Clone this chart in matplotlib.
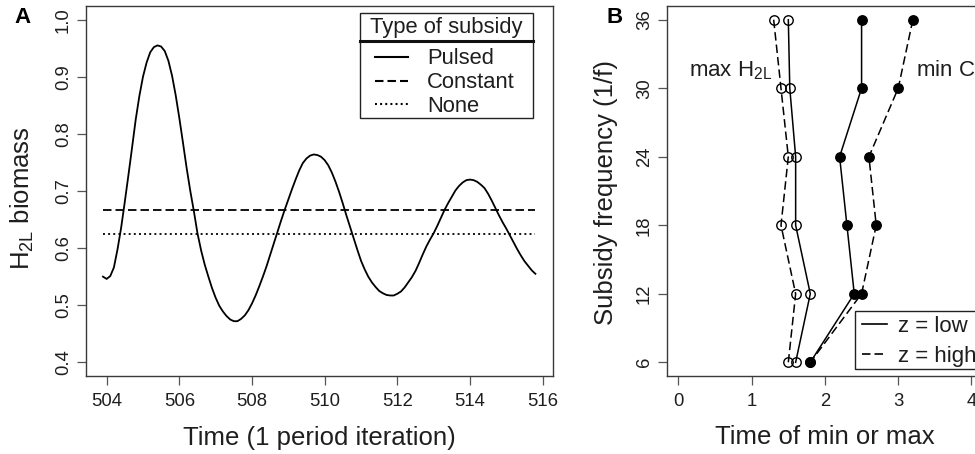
import matplotlib
matplotlib.use("Agg")
import matplotlib.pyplot as plt
from matplotlib.lines import Line2D
from matplotlib.patches import Rectangle

plt.rcParams['font.family'] = ['Liberation Sans', 'DejaVu Sans']
plt.rcParams['mathtext.default'] = 'regular'
plt.rcParams['lines.scale_dashes'] = False

# ---------------- data ----------------
# Panel A: H2L biomass over one period iteration
time = [503.9, 504.0, 504.1, 504.2, 504.3, 504.4, 504.5, 504.6, 504.7, 504.8,
        504.9, 505.0, 505.1, 505.2, 505.3, 505.4, 505.5, 505.6, 505.7, 505.8,
        505.9, 506.0, 506.1, 506.2, 506.3, 506.4, 506.5, 506.6, 506.7, 506.8,
        506.9, 507.0, 507.1, 507.2, 507.3, 507.4, 507.5, 507.6, 507.7, 507.8,
        507.9, 508.0, 508.1, 508.2, 508.3, 508.4, 508.5, 508.6, 508.7, 508.8,
        508.9, 509.0, 509.1, 509.2, 509.3, 509.4, 509.5, 509.6, 509.7, 509.8,
        509.9, 510.0, 510.1, 510.2, 510.3, 510.4, 510.5, 510.6, 510.7, 510.8,
        510.9, 511.0, 511.1, 511.2, 511.3, 511.4, 511.5, 511.6, 511.7, 511.8,
        511.9, 512.0, 512.1, 512.2, 512.3, 512.4, 512.5, 512.6, 512.7, 512.8,
        512.9, 513.0, 513.1, 513.2, 513.3, 513.4, 513.5, 513.6, 513.7, 513.8,
        513.9, 514.0, 514.1, 514.2, 514.3, 514.4, 514.5, 514.6, 514.7, 514.8,
        514.9, 515.0, 515.1, 515.2, 515.3, 515.4, 515.5, 515.6, 515.7, 515.8]
pulsed = [0.550, 0.546, 0.551, 0.566, 0.598, 0.636, 0.681, 0.728, 0.776, 0.825,
          0.866, 0.900, 0.925, 0.943, 0.952, 0.955, 0.953, 0.945, 0.928, 0.902,
          0.868, 0.828, 0.785, 0.741, 0.701, 0.665, 0.626, 0.596, 0.571, 0.550,
          0.530, 0.513, 0.499, 0.489, 0.481, 0.475, 0.472, 0.472, 0.476, 0.482,
          0.491, 0.503, 0.517, 0.533, 0.550, 0.568, 0.588, 0.608, 0.628, 0.648,
          0.667, 0.685, 0.703, 0.720, 0.736, 0.749, 0.757, 0.762, 0.764, 0.763,
          0.760, 0.754, 0.745, 0.732, 0.716, 0.698, 0.678, 0.657, 0.637, 0.617,
          0.597, 0.578, 0.563, 0.550, 0.540, 0.532, 0.525, 0.521, 0.518, 0.517,
          0.517, 0.520, 0.524, 0.531, 0.540, 0.549, 0.560, 0.574, 0.589, 0.603,
          0.615, 0.626, 0.639, 0.653, 0.667, 0.679, 0.690, 0.701, 0.709, 0.715,
          0.719, 0.720, 0.719, 0.716, 0.711, 0.705, 0.695, 0.683, 0.670, 0.657,
          0.645, 0.634, 0.622, 0.610, 0.598, 0.587, 0.577, 0.569, 0.561, 0.555]
constant_level = 0.667
none_level = 0.625
subsidy_types = ['Pulsed', 'Constant', 'None']
a_xticks = [504, 506, 508, 510, 512, 514, 516]
a_yticks = [0.4, 0.5, 0.6, 0.7, 0.8, 0.9, 1.0]

# Panel B: time of min / max vs subsidy frequency
freq = [36, 30, 24, 18, 12, 6]
maxH_low = [1.5, 1.52, 1.6, 1.6, 1.8, 1.6]
maxH_high = [1.3, 1.4, 1.5, 1.4, 1.6, 1.5]
minC_low = [2.5, 2.5, 2.2, 2.3, 2.4, 1.8]
minC_high = [3.2, 3.0, 2.6, 2.7, 2.5, 1.8]
z_labels = ['z = low', 'z = high']
b_xticks = [0, 1, 2, 3, 4]
b_yticks = [6, 12, 18, 24, 30, 36]

# ---------------- figure ----------------
W, H = 975, 454
fig = plt.figure(figsize=(W / 100, H / 100), dpi=100)


def fx(px):
    return px / W


def fy(py):
    return 1 - py / H


TXT = '#1e1e1e'
SPINE = '#3a3a3a'
TICK = '#555555'
DASH = (0, (6.1, 2.9))
DOT = (0, (1.4, 2.3))

axA = fig.add_axes([fx(85.7), fy(376), (552.7 - 85.7) / W, 370 / H])
axB = fig.add_axes([fx(666.7), fy(376), (983.2 - 666.7) / W, 370 / H])

# Panel A
axA.plot(time, pulsed, color='black', lw=1.3, ls='-', solid_joinstyle='round')
axA.plot([time[0], time[-1]], [constant_level, constant_level], color='black', lw=1.3, ls=DASH)
axA.plot([time[0], time[-1]], [none_level, none_level], color='black', lw=1.3, ls=DOT)
axA.set_xlim(503.424, 516.276)
axA.set_ylim(0.376, 1.024)
axA.set_xticks(a_xticks)
axA.set_xticklabels([str(v) for v in a_xticks])
axA.set_yticks(a_yticks)
axA.set_yticklabels(['%.1f' % v for v in a_yticks])

# Panel B
axB.plot(maxH_low, freq, color='black', lw=1.1, ls='-', marker='o', ms=6.8,
         mfc='none', mec='black', mew=1.0)
axB.plot(maxH_high, freq, color='black', lw=1.1, ls=DASH, marker='o', ms=6.8,
         mfc='none', mec='black', mew=1.0)
axB.plot(minC_low, freq, color='black', lw=1.1, ls='-', marker='o', ms=6.8,
         mfc='black', mec='black', mew=1.0)
axB.plot(minC_high, freq, color='black', lw=1.1, ls=DASH, marker='o', ms=6.8,
         mfc='black', mec='black', mew=1.0)
axB.set_xlim(-0.16, 4.16)
axB.set_ylim(4.8, 37.2)
axB.set_xticks(b_xticks)
axB.set_xticklabels([str(v) for v in b_xticks])
axB.set_yticks(b_yticks)
axB.set_yticklabels([str(v) for v in b_yticks])

for ax in (axA, axB):
    for s in ax.spines.values():
        s.set_color(SPINE)
        s.set_linewidth(1.0)
    ax.tick_params(axis='both', direction='out', length=6.5, width=0.9,
                   color=TICK, labelsize=13.3, labelcolor=TXT)
    ax.tick_params(axis='x', pad=5.5)
    ax.tick_params(axis='y', pad=3.3, labelrotation=90)
    for t in ax.yaxis.get_major_ticks():
        t.label1.set_verticalalignment('center')
        t.label1.set_horizontalalignment('right')

# axis titles
axA.set_xlabel('Time (1 period iteration)', fontsize=18.5, color=TXT)
axA.xaxis.set_label_coords(0.5, (376 - 445) / 370)
axA.xaxis.label.set_verticalalignment('baseline')
axA.set_ylabel('H$_{2L}$ biomass', fontsize=18.5, color=TXT)
axA.yaxis.set_label_coords((29.5 - 85.7) / 467, (376 - 198) / 370)
axA.yaxis.label.set_verticalalignment('baseline')

axB.set_xlabel('Time of min or max', fontsize=18.5, color=TXT)
axB.xaxis.set_label_coords(0.5, (376 - 444) / 370)
axB.xaxis.label.set_verticalalignment('baseline')
axB.set_ylabel('Subsidy frequency (1/f)', fontsize=18.5, color=TXT)
axB.yaxis.set_label_coords((613 - 666.7) / 316.5, (376 - 192.5) / 370)
axB.yaxis.label.set_verticalalignment('baseline')

# panel letters
fig.text(fx(14.5), fy(23.3), 'A', fontsize=16, fontweight='bold', va='baseline', color='black')
fig.text(fx(606.7), fy(23.3), 'B', fontsize=16, fontweight='bold', va='baseline', color='black')

# Panel A legend
fig.add_artist(Rectangle((fx(360), fy(118.3)), (532.7 - 360) / W, (118.3 - 12.5) / H,
                         transform=fig.transFigure, fill=False, lw=1.0, ec='#222222'))
fig.text(fx(446), fy(33.5), 'Type of subsidy', ha='center', va='baseline',
         fontsize=15.8, color=TXT)
fig.add_artist(Line2D([fx(360), fx(532.7)], [fy(40.7), fy(40.7)],
                      transform=fig.transFigure, lw=2.2, color='#111111'))
for lab, ls, base in zip(subsidy_types, ['-', DASH, DOT], [64.0, 88.0, 111.7]):
    fig.add_artist(Line2D([fx(375), fx(408)], [fy(base - 7.3), fy(base - 7.3)],
                          transform=fig.transFigure, lw=1.5, ls=ls, color='black'))
    fig.text(fx(427), fy(base), lab, va='baseline', fontsize=15.8, color=TXT)

# Panel B legend
fig.add_artist(Rectangle((fx(855), fy(369.3)), (1000 - 855) / W, (369.3 - 310.7) / H,
                         transform=fig.transFigure, fill=False, lw=1.0, ec='#222222'))
for lab, ls, base in zip(z_labels, ['-', DASH], [331.7, 361.7]):
    fig.add_artist(Line2D([fx(861.7), fx(886.7)], [fy(base - 7.5), fy(base - 7.5)],
                          transform=fig.transFigure, lw=1.2, ls=ls, color='black'))
    fig.text(fx(898.3), fy(base), lab, va='baseline', fontsize=16, color=TXT)

# Panel B annotations
fig.text(fx(688.7), fy(76), 'max H$_{2L}$', va='baseline', fontsize=16, color=TXT)
fig.text(fx(915.5), fy(76.7), 'min C$_{1}$', va='baseline', fontsize=16, color=TXT)

fig.savefig('out.png', dpi=100)
